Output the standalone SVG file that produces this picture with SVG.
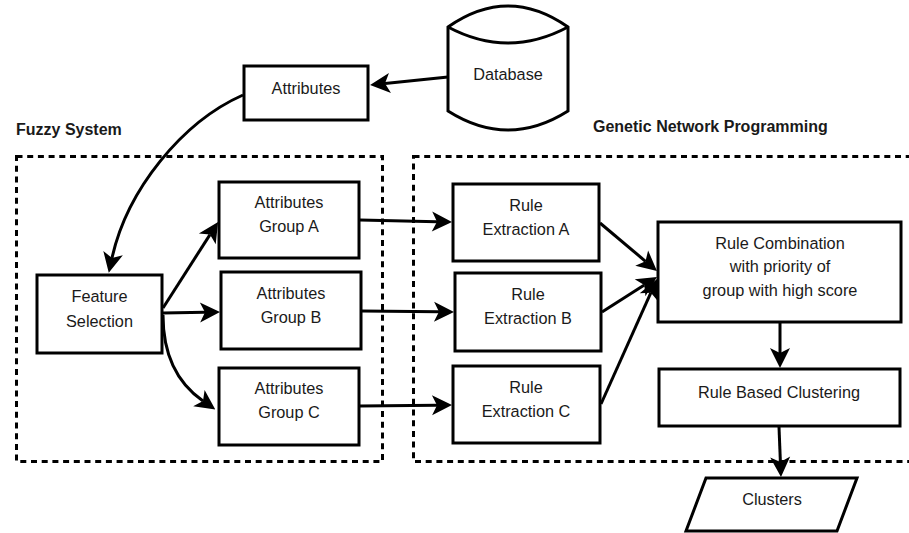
<svg xmlns="http://www.w3.org/2000/svg" width="909" height="533" viewBox="0 0 909 533">
  <style>
    .box { fill: #ffffff; stroke: #000000; stroke-width: 3; }
    .group { fill: none; stroke: #000000; stroke-width: 3; stroke-dasharray: 6 4.7; }
    .label { font-family: "Liberation Sans", Arial, Helvetica, sans-serif; font-size: 16.3px; fill: #1a1a1a; text-anchor: middle; }
    .title { font-family: "Liberation Sans", Arial, Helvetica, sans-serif; font-size: 16px; font-weight: bold; fill: #1a1a1a; }
    .edge { fill: none; stroke: #000000; stroke-width: 3; marker-end: url(#arrow); }
  </style>
  <defs>
    <!-- classic notched arrowhead; the line ends at the notch -->
    <marker id="arrow" markerUnits="userSpaceOnUse" viewBox="0 0 22 22" markerWidth="22" markerHeight="22" refX="7" refY="11" orient="auto">
      <path d="M22,11 L2,1 L7,11 L2,21 Z" fill="#000000"/>
    </marker>
  </defs>

  <rect width="909" height="533" fill="#ffffff"/>

  <!-- grouping frames -->
  <g id="fuzzy-system">
    <rect class="group" x="16.5" y="156.5" width="366" height="305"/>
    <text class="title" x="16" y="135">Fuzzy System</text>
  </g>
  <g id="genetic-network-programming">
    <rect class="group" x="413.5" y="156.5" width="520" height="305"/>
    <text class="title" x="593" y="132">Genetic Network Programming</text>
  </g>

  <!-- connectors -->
  <g id="connectors">
    <path class="edge" d="M448,77 L385,83.5"/>
    <path class="edge" d="M243,95 C182,122 127,190 112,258"/>
    <path class="edge" d="M163,308 L210,234.6"/>
    <path class="edge" d="M163,313 L205,312.3"/>
    <path class="edge" d="M163,315 C163,360 180,385 203,401"/>
    <path class="edge" d="M360,220 L437,221.7"/>
    <path class="edge" d="M362,311 L439,311.8"/>
    <path class="edge" d="M360,406 L437,405.2"/>
    <path class="edge" d="M600,223 L645.5,261.3"/>
    <path class="edge" d="M602,312 L644.3,285.1"/>
    <path class="edge" d="M601,404 L650.9,292.7"/>
    <path class="edge" d="M780,323 L780,353"/>
    <path class="edge" d="M779,427 L780.4,462"/>
  </g>

  <!-- nodes -->
  <g id="database">
    <path class="box" d="M448,27 Q508,-15 568,27 L568,111 Q508,149 448,111 Z"/>
    <path d="M448,27 Q508,59 568,27" fill="none" stroke="#000000" stroke-width="3"/>
    <text class="label" x="508" y="80">Database</text>
  </g>
  <g id="attributes">
    <rect class="box" x="244" y="66" width="124" height="54"/>
    <text class="label" x="306" y="94">Attributes</text>
  </g>
  <g id="feature-selection">
    <rect class="box" x="37" y="275" width="125" height="78"/>
    <text class="label" x="99.5" y="302">Feature</text>
    <text class="label" x="99.5" y="327">Selection</text>
  </g>
  <g id="attributes-group-a">
    <rect class="box" x="219" y="182" width="140" height="76"/>
    <text class="label" x="289" y="208">Attributes</text>
    <text class="label" x="289" y="232">Group A</text>
  </g>
  <g id="attributes-group-b">
    <rect class="box" x="221" y="272" width="140" height="77"/>
    <text class="label" x="291" y="299">Attributes</text>
    <text class="label" x="291" y="323">Group B</text>
  </g>
  <g id="attributes-group-c">
    <rect class="box" x="219" y="368" width="140" height="77"/>
    <text class="label" x="289" y="394">Attributes</text>
    <text class="label" x="289" y="418">Group C</text>
  </g>
  <g id="rule-extraction-a">
    <rect class="box" x="453" y="184" width="146" height="77"/>
    <text class="label" x="526" y="211">Rule</text>
    <text class="label" x="526" y="235">Extraction A</text>
  </g>
  <g id="rule-extraction-b">
    <rect class="box" x="455" y="273" width="146" height="78"/>
    <text class="label" x="528" y="300">Rule</text>
    <text class="label" x="528" y="324">Extraction B</text>
  </g>
  <g id="rule-extraction-c">
    <rect class="box" x="453" y="366" width="147" height="77"/>
    <text class="label" x="526" y="393">Rule</text>
    <text class="label" x="526" y="417">Extraction C</text>
  </g>
  <g id="rule-combination">
    <rect class="box" x="658" y="222" width="243" height="100"/>
    <text class="label" x="780" y="249">Rule Combination</text>
    <text class="label" x="780" y="272">with priority of</text>
    <text class="label" x="780" y="296">group with high score</text>
  </g>
  <g id="rule-based-clustering">
    <rect class="box" x="659" y="369" width="241" height="57"/>
    <text class="label" x="779" y="398">Rule Based Clustering</text>
  </g>
  <g id="clusters">
    <path class="box" d="M706,478 L857,478 L837,531 L686,531 Z"/>
    <text class="label" x="772" y="505">Clusters</text>
  </g>
</svg>
